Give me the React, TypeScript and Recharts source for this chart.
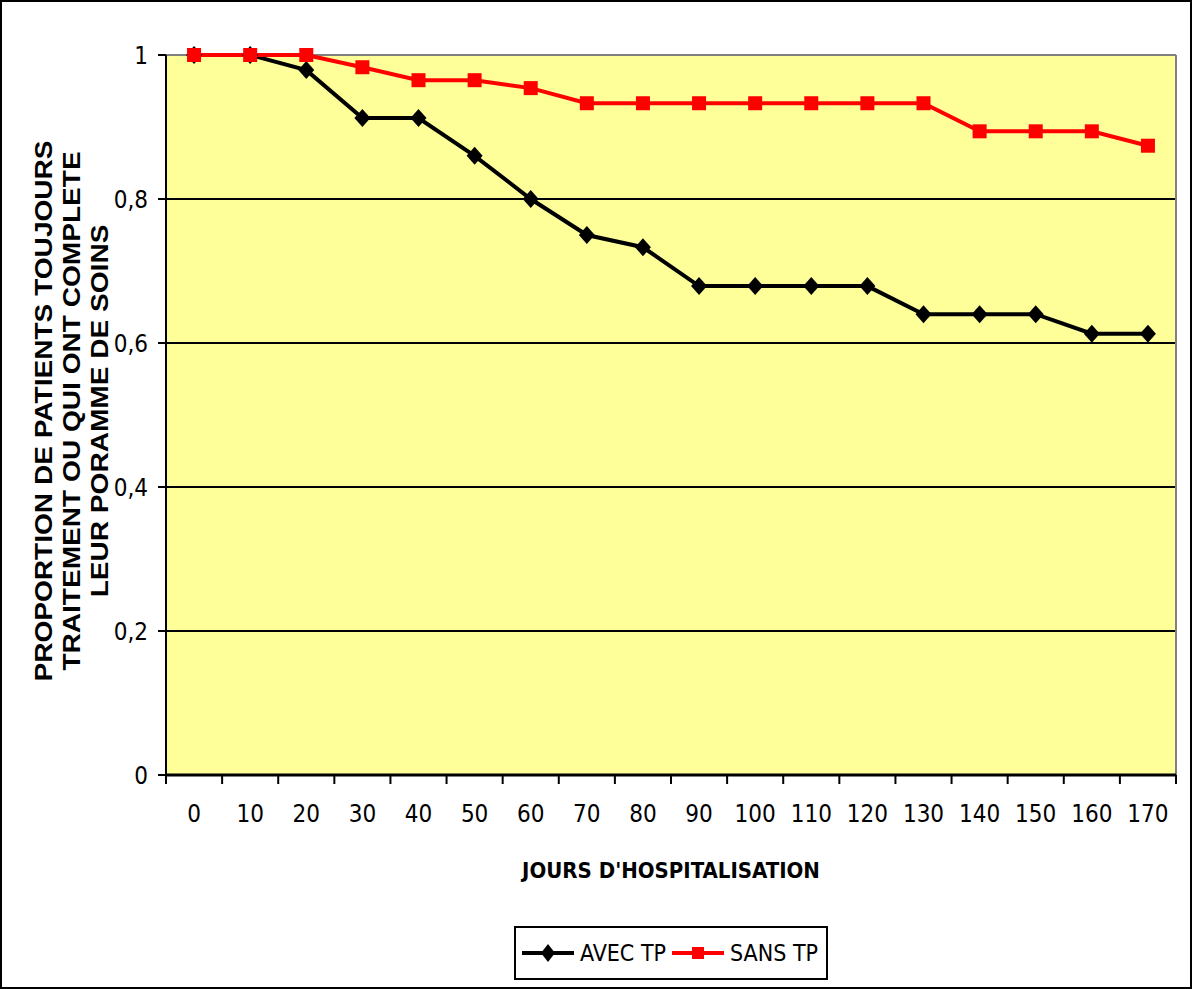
import React from "react";
import {
  LineChart, Line, XAxis, YAxis, CartesianGrid, ReferenceLine, Legend,
} from "recharts";

const days = ["0", "10", "20", "30", "40", "50", "60", "70", "80", "90", "100", "110", "120", "130", "140", "150", "160", "170"];
const avecTp = [1, 1, 0.979, 0.9125, 0.9125, 0.86, 0.8, 0.75, 0.733, 0.679, 0.679, 0.679, 0.679, 0.64, 0.64, 0.64, 0.613, 0.613];
const sansTp = [1, 1, 1, 0.983, 0.965, 0.965, 0.954, 0.933, 0.933, 0.933, 0.933, 0.933, 0.933, 0.933, 0.894, 0.894, 0.894, 0.874];
const yTicks = [0, 0.2, 0.4, 0.6, 0.8, 1];
const gridValues = [0.2, 0.4, 0.6, 0.8];
const yTitle = ["PROPORTION DE PATIENTS TOUJOURS", "TRAITEMENT OU QUI ONT COMPLETE", "LEUR PORAMME DE SOINS"];
const xTitle = "JOURS D'HOSPITALISATION";

const data = days.map((d, i) => ({ day: d, avec: avecTp[i], sans: sansTp[i] }));

const narrow = "'Liberation Sans Narrow', 'Arial Narrow', 'DejaVu Sans Condensed', sans-serif";
const arial = "'Liberation Sans', Arial, sans-serif";
const TICK_GAP = 30;

const Diamond = (p: any) => {
  const { cx, cy } = p;
  if (cx == null || cy == null) return null;
  return <path d={`M${cx},${cy - 9} L${cx + 8},${cy} L${cx},${cy + 9} L${cx - 8},${cy} Z`} fill="#000" />;
};

const Square = (p: any) => {
  const { cx, cy } = p;
  if (cx == null || cy == null) return null;
  return <rect x={cx - 7} y={cy - 7} width={14} height={14} fill="#ff0000" />;
};

// label in the middle of the slot, tick marks on the slot edges (Excel style)
function DayTick(props: any) {
  const { x, y, payload, index } = props;
  const half = payload?.offset ?? 28;
  const axisY = y - TICK_GAP;
  return (
    <g>
      <line x1={x - half} y1={axisY} x2={x - half} y2={axisY + 9} stroke="#000" strokeWidth={2} />
      {index === days.length - 1 && (
        <line x1={x + half} y1={axisY} x2={x + half} y2={axisY + 9} stroke="#000" strokeWidth={2} />
      )}
      <text x={x} y={y} dy="0.71em" textAnchor="middle" fontFamily={narrow} fontSize={24} fill="#000">
        {payload.value}
      </text>
    </g>
  );
}

function YTitle({ viewBox }: any) {
  const cy = viewBox.y + viewBox.height / 2 - 4;
  return (
    <g>
      {yTitle.map((t, i) => {
        const x = viewBox.x + 42 + i * 28;
        return (
          <text key={i} x={0} y={0} transform={`translate(${x} ${cy}) rotate(-90) scale(1.17 1)`} textAnchor="middle"
            dominantBaseline="central" fontFamily={arial} fontWeight={700} fontSize={24} fill="#000">
            {t}
          </text>
        );
      })}
    </g>
  );
}

function XTitle({ viewBox }: any) {
  return (
    <text x={viewBox.x + viewBox.width / 2} y={viewBox.y + 95} textAnchor="middle" dominantBaseline="central"
      fontFamily={narrow} fontWeight={700} fontSize={22} fill="#000">
      {xTitle}
    </text>
  );
}

function LegendBox({ payload }: any) {
  return (
    <div style={{ display: "flex", justifyContent: "center", paddingLeft: 164 }}>
      <div style={{ border: "2px solid #000", height: 54, display: "flex", alignItems: "center", padding: "0 8px 0 6px", boxSizing: "border-box", background: "#fff" }}>
        {(payload || []).map((e: any, i: number) => (
          <div key={i} style={{ display: "flex", alignItems: "center", marginRight: i === 0 ? 6 : 0 }}>
            <svg width={52} height={22}>
              <line x1={0} y1={11} x2={52} y2={11} stroke={e.color} strokeWidth={4} />
              {e.dataKey === "avec"
                ? <path d="M26,2 L33,11 L26,20 L19,11 Z" fill="#000" />
                : <rect x={20} y={5} width={12} height={12} fill="#ff0000" />}
            </svg>
            <span style={{ fontFamily: narrow, fontSize: 23, marginLeft: 6, color: "#000" }}>{e.value}</span>
          </div>
        ))}
      </div>
    </div>
  );
}

export default function App() {
  return (
    <div style={{ position: "absolute", left: 0, top: 0, width: 1188, height: 985, border: "2px solid #000", background: "#fff" }}>
      <LineChart width={1188} height={985} data={data} margin={{ top: 53, right: 14, left: 0, bottom: 7 }}>
        <CartesianGrid fill="#FFFF99" stroke="#000" strokeWidth={2} vertical={false} horizontalValues={gridValues} />
        <XAxis
          dataKey="day" scale="band" height={151}
          tickLine={false} tickSize={0} tickMargin={TICK_GAP}
          axisLine={{ stroke: "#000", strokeWidth: 3 }}
          tick={<DayTick />}
          interval={0}
          label={<XTitle />}
        />
        <YAxis
          domain={[0, 1]} ticks={yTicks} width={164} interval={0}
          tickSize={8} tickMargin={10}
          tickLine={{ stroke: "#000", strokeWidth: 2 }}
          axisLine={{ stroke: "#000", strokeWidth: 2 }}
          tick={{ fontFamily: narrow, fontSize: 24, fill: "#000" }}
          tickFormatter={(v: number) => String(v).replace(".", ",")}
          label={<YTitle />}
        />
        <ReferenceLine y={1} stroke="#808080" strokeWidth={2} />
        <ReferenceLine x={days[days.length - 1]} position="end" stroke="#808080" strokeWidth={2} />
        <Line dataKey="avec" name="AVEC TP" stroke="#000" strokeWidth={4} dot={<Diamond />} isAnimationActive={false} />
        <Line dataKey="sans" name="SANS TP" stroke="#ff0000" strokeWidth={4} dot={<Square />} isAnimationActive={false} />
        <Legend verticalAlign="bottom" height={54} content={<LegendBox />} />
      </LineChart>
    </div>
  );
}
